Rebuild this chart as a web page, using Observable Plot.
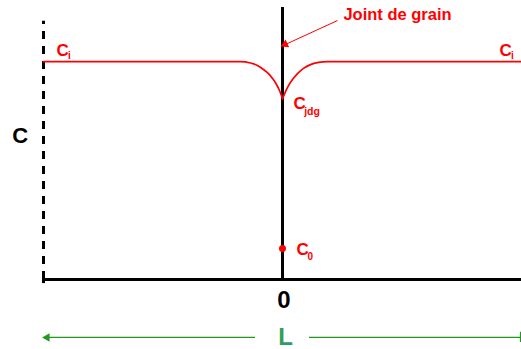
<!DOCTYPE html>
<html>
<head>
<meta charset="utf-8">
<script src="https://cdn.jsdelivr.net/npm/d3@7"></script>
<script src="https://cdn.jsdelivr.net/npm/@observablehq/plot@0.6"></script>
<style>
  html, body { margin: 0; padding: 0; background: #fff; }
  #chart svg { display: block; }
</style>
</head>
<body>
<div id="chart"></div>
<script>
// Concentration levels (arbitrary units, 0 = bottom axis, 100 = top of joint line)
const levelNames = ["Ci", "Cjdg", "C0"];
const levelValues = [80.1, 66.5, 11.4];
const Ci = levelValues[0], Cjdg = levelValues[1], C0 = levelValues[2];

// Concentration profile, position x in [-1, 1], grain boundary at x = 0
const profileLeftX = [-1, -0.176, -0.134, -0.105, -0.0795, -0.0586, -0.0418, -0.0251, -0.0126, -0.0042, 0];
const profileLeftC = [80.1, 80.1, 79.6, 78.7, 77.2, 75.7, 73.9, 71.7, 69.5, 67.6, 66.5];
const profileRightX = [0, 0.0042, 0.0126, 0.0251, 0.0418, 0.0628, 0.0879, 0.117, 0.151, 0.188, 1];
const profileRightC = [66.5, 67.3, 69.1, 71.3, 73.5, 75.7, 77.6, 79.0, 79.8, 80.1, 80.1];

const left = profileLeftX.map((x, i) => ({x, c: profileLeftC[i], side: "L"}));
const right = profileRightX.map((x, i) => ({x, c: profileRightC[i], side: "R"}));

const RED = "#ff0000";
const GREEN_LINE = "#1f9a1f";
const GREEN_TEXT = "#2e9e62";
const FONT = "Liberation Sans, Arial, Helvetica, sans-serif";

const txt = (data, o) => Plot.text(data, {x: "x", y: "y", text: "t", fontWeight: "bold", ...o});

const chart = Plot.plot({
  width: 521,
  height: 349,
  marginLeft: 43,
  marginRight: 0,
  marginTop: 7,
  marginBottom: 70,
  x: {domain: [-1, 1], axis: null},
  y: {domain: [0, 100], axis: null},
  style: {fontFamily: FONT, background: "#fff", overflow: "visible"},
  marks: [
    // dashed left boundary
    Plot.ruleX([-1], {y1: 0, y2: 94.9, stroke: "#000", strokeWidth: 3, strokeDasharray: "8,7"}),
    // small tick at left end of axis
    Plot.ruleX([-1], {y1: -1.5, y2: 1.8, stroke: "#000", strokeWidth: 3}),
    // bottom axis
    Plot.ruleY([0], {x1: -1, x2: 1, stroke: "#000", strokeWidth: 3}),
    // grain boundary
    Plot.ruleX([0], {y1: 0, y2: 100, stroke: "#000", strokeWidth: 3}),
    // concentration profile
    Plot.line([...left, ...right], {x: "x", y: "c", z: "side", stroke: RED, strokeWidth: 1.7, curve: "monotone-x"}),
    // C0 point
    Plot.dot([{x: 0, c: C0}], {x: "x", y: "c", r: 3.5, fill: RED, stroke: null}),
    // arrow to grain boundary
    Plot.link([{x1: 0.23, y1: 95.2, x2: 0.012, y2: 86.4}], {x1: "x1", y1: "y1", x2: "x2", y2: "y2", stroke: RED, strokeWidth: 1}),
    Plot.dot([{x: 0.011, y: 86.4}], {x: "x", y: "y", symbol: "triangle", r: 3.2, fill: RED, stroke: null, rotate: -114.8}),
    // labels
    txt([{x: 0.255, y: 97.3, t: "Joint de grain"}], {textAnchor: "start", fontSize: 16.5, fill: RED}),
    txt([{x: -0.946, y: Ci + 4.0, t: "C"}, {x: 0.908, y: Ci + 3.9, t: "C"}], {textAnchor: "start", fontSize: 17, fill: RED}),
    txt([{x: -0.897, y: Ci + 2.0, t: "i"}, {x: 0.956, y: Ci + 2.0, t: "i"}], {textAnchor: "start", fontSize: 10, fill: RED}),
    txt([{x: 0.046, y: Cjdg - 1.7, t: "C"}], {textAnchor: "start", fontSize: 17, fill: RED}),
    txt([{x: 0.0905, y: Cjdg - 4.6, t: "jdg"}], {textAnchor: "start", fontSize: 10.5, fill: RED}),
    txt([{x: 0.0586, y: C0 - 0.3, t: "C"}], {textAnchor: "start", fontSize: 17, fill: RED}),
    txt([{x: 0.1046, y: C0 - 3.0, t: "0"}], {textAnchor: "start", fontSize: 10, fill: RED}),
    txt([{x: -1.098, y: 52.6, t: "C"}], {fontSize: 22, fill: "#000"}),
    txt([{x: 0.006, y: -7.7, t: "0"}], {fontSize: 24, fill: "#000"}),
    // L dimension
    Plot.ruleY([-21.3], {x1: -0.995, x2: -0.113, stroke: GREEN_LINE, strokeWidth: 1.3}),
    Plot.ruleY([-21.3], {x1: 0.113, x2: 0.998, stroke: GREEN_LINE, strokeWidth: 1.3}),
    Plot.ruleX([0.996], {y1: -23.2, y2: -19.4, stroke: GREEN_LINE, strokeWidth: 1.3}),
    Plot.dot([{x: -0.985, y: -21.3}], {x: "x", y: "y", symbol: "triangle", r: 3.2, fill: GREEN_LINE, stroke: null, rotate: -90}),
    txt([{x: 0.0126, y: -21.3, t: "L"}], {fontSize: 24, fill: GREEN_TEXT})
  ]
});
document.getElementById("chart").appendChild(chart);
</script>
</body>
</html>
